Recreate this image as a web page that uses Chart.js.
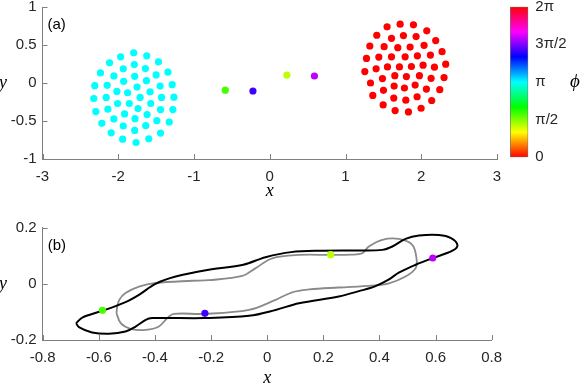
<!DOCTYPE html>
<html>
<head>
<meta charset="utf-8">
<script src="https://cdn.jsdelivr.net/npm/chart.js@4.4.1/dist/chart.umd.min.js"></script>
<style>
body { margin: 0; background: #fff; width: 581px; height: 384px; overflow: hidden; position: relative; }
canvas { position: absolute; }
#top { left: 0; top: 0; }
#bar { left: 500px; top: 0; }
#bottom { left: 0; top: 200px; }
</style>
</head>
<body>
<canvas id="top" width="505" height="200"></canvas>
<canvas id="bar" width="81" height="200"></canvas>
<canvas id="bottom" width="505" height="184"></canvas>
<script>
// left cloud (phase pi) and right cloud (phase 0)
var leftCloud = [
  [-1.796,0.398],[-1.624,0.358],[-1.969,0.345],[-2.115,0.265],[-1.469,0.279],[-1.788,0.243],
  [-1.934,0.186],[-1.642,0.190],[-2.235,0.133],[-1.345,0.142],[-2.058,0.093],[-1.783,0.088],
  [-1.500,0.106],[-2.310,-0.035],[-1.929,0.022],[-1.628,0.031],[-2.146,-0.031],[-1.752,-0.053],
  [-1.447,-0.040],[-1.288,-0.022],[-2.018,-0.111],[-1.876,-0.128],[-1.580,-0.115],[-2.323,-0.204],
  [-2.159,-0.190],[-1.712,-0.190],[-1.429,-0.190],[-1.265,-0.186],[-2.009,-0.270],[-1.854,-0.270],
  [-1.571,-0.270],[-2.296,-0.376],[-2.137,-0.345],[-1.739,-0.336],[-1.442,-0.350],[-1.279,-0.350],
  [-1.916,-0.407],[-1.619,-0.416],[-2.058,-0.473],[-1.779,-0.469],[-1.491,-0.496],[-1.327,-0.513],
  [-2.217,-0.531],[-1.934,-0.566],[-1.637,-0.562],[-2.093,-0.655],[-1.783,-0.624],[-1.442,-0.659],
  [-1.942,-0.739],[-1.597,-0.735],[-1.765,-0.783]
];
var leftPhase = Math.PI;

var rightCloud = [
  [1.721,0.774],[1.549,0.739],[1.897,0.765],[1.413,0.628],[2.073,0.686],[1.607,0.588],
  [1.765,0.624],[1.932,0.611],[2.191,0.558],[1.321,0.487],[1.510,0.478],[1.690,0.465],
  [1.853,0.473],[2.037,0.496],[2.275,0.412],[1.277,0.323],[1.440,0.341],[1.607,0.345],
  [1.787,0.345],[1.949,0.358],[2.121,0.367],[1.255,0.150],[1.404,0.186],[1.554,0.212],
  [1.712,0.212],[1.870,0.217],[2.024,0.235],[2.174,0.208],[2.323,0.248],[1.330,0.000],
  [1.488,0.058],[1.651,0.097],[1.804,0.084],[1.976,0.097],[2.130,0.062],[2.301,0.071],
  [1.360,-0.164],[1.501,-0.097],[1.642,-0.040],[1.778,-0.066],[1.919,-0.027],[2.068,-0.080],
  [2.244,-0.088],[1.637,-0.199],[1.796,-0.226],[1.945,-0.181],[2.138,-0.230],[1.497,-0.288],
  [1.655,-0.363],[1.831,-0.381],[1.998,-0.332]
];
var rightPhase = 0;

// the four tracked particles, shown in both panels
var trackX = [-0.587, -0.222, 0.226, 0.590];
var trackY = [-0.094, -0.105, 0.104, 0.092];
var trackPhase = [1.80, 4.45, 1.31, 4.97];

// closed curves of panel (b)
var blackLoop = [
  [-0.681,-0.140],[-0.659,-0.120],[-0.587,-0.096],[-0.505,-0.065],[-0.457,-0.039],[-0.398,0.000],
  [-0.326,0.026],[-0.208,0.050],[-0.085,0.068],[-0.006,0.095],[0.085,0.113],[0.197,0.118],
  [0.315,0.119],[0.410,0.121],[0.446,0.133],[0.493,0.160],[0.541,0.172],[0.612,0.174],
  [0.655,0.163],[0.678,0.138],[0.660,0.118],[0.588,0.091],[0.529,0.068],[0.469,0.040],
  [0.434,0.016],[0.386,-0.008],[0.327,-0.026],[0.255,-0.045],[0.113,-0.069],[0.030,-0.093],
  [-0.065,-0.114],[-0.226,-0.122],[-0.410,-0.122],[-0.433,-0.128],[-0.469,-0.152],[-0.505,-0.170],
  [-0.564,-0.178],[-0.624,-0.173],[-0.671,-0.154],[-0.681,-0.140]
];
var grayLoop = [
  [-0.537,-0.105],[-0.535,-0.085],[-0.527,-0.057],[-0.505,-0.033],[-0.457,-0.010],[-0.398,0.003],
  [-0.267,0.011],[-0.208,0.013],[-0.089,0.028],[-0.041,0.056],[0.018,0.091],[0.113,0.103],
  [0.226,0.103],[0.300,0.104],[0.339,0.109],[0.362,0.133],[0.410,0.157],[0.469,0.160],
  [0.517,0.139],[0.532,0.091],[0.529,0.056],[0.493,0.026],[0.434,0.002],[0.374,-0.006],
  [0.255,-0.013],[0.150,-0.020],[0.089,-0.030],[0.030,-0.057],[-0.065,-0.093],[-0.226,-0.107],
  [-0.333,-0.107],[-0.356,-0.122],[-0.386,-0.152],[-0.433,-0.164],[-0.487,-0.160],[-0.522,-0.140],
  [-0.537,-0.105]
];

var topXTicks = [-3, -2, -1, 0, 1, 2, 3];
var topYTicks = [-1, -0.5, 0, 0.5, 1];
var bottomXTicks = [-0.8, -0.6, -0.4, -0.2, 0, 0.2, 0.4, 0.6, 0.8];
var bottomYTicks = [-0.2, 0, 0.2];
var phiTicks = [0, Math.PI / 2, Math.PI, 3 * Math.PI / 2, 2 * Math.PI];
var phiTickLabels = ['0', 'π/2', 'π', '3π/2', '2π'];

Chart.defaults.font.family = '"Liberation Sans", Arial, sans-serif';
Chart.defaults.font.size = 15;
Chart.defaults.color = '#262626';
Chart.defaults.animation = false;

// matlab-like hsv colormap
function hsv(phi) {
  var h = (((phi / (2 * Math.PI)) % 1) + 1) % 1 * 6;
  var i = Math.floor(h), f = h - i, r, g, b;
  switch (i % 6) {
    case 0: r = 1; g = f; b = 0; break;
    case 1: r = 1 - f; g = 1; b = 0; break;
    case 2: r = 0; g = 1; b = f; break;
    case 3: r = 0; g = 1 - f; b = 1; break;
    case 4: r = f; g = 0; b = 1; break;
    default: r = 1; g = 0; b = 1 - f;
  }
  return 'rgb(' + Math.round(r * 255) + ',' + Math.round(g * 255) + ',' + Math.round(b * 255) + ')';
}

function pairs(list) {
  return list.map(function (p) { return { x: p[0], y: p[1] }; });
}

function trackPoints() {
  return trackX.map(function (x, i) { return { x: x, y: trackY[i] }; });
}

function fmt(v) {
  return String(Math.round(v * 100) / 100);
}

function setTicks(list) {
  return function (scale) {
    scale.ticks = list.map(function (v) { return { value: v }; });
  };
}

// inward ticks, panel tag and axis letters
var decorate = {
  id: 'decorate',
  afterDraw: function (chart) {
    var o = chart.options.plugins.decorate;
    if (!o) return;
    var c = chart.ctx, a = chart.chartArea, xs = chart.scales.x, ys = chart.scales.y;
    c.save();
    c.strokeStyle = '#808080';
    c.lineWidth = 1;
    c.beginPath();
    xs.ticks.forEach(function (t) {
      var p = Math.round(xs.getPixelForValue(t.value)) + 0.5;
      c.moveTo(p, a.bottom);
      c.lineTo(p, a.bottom - 5);
    });
    ys.ticks.forEach(function (t) {
      var p = Math.round(ys.getPixelForValue(t.value)) + 0.5;
      c.moveTo(a.left, p);
      c.lineTo(a.left + 5, p);
    });
    c.stroke();

    c.fillStyle = '#000';
    c.font = '15px "Liberation Sans", Arial, sans-serif';
    c.textAlign = 'left';
    c.textBaseline = 'middle';
    c.fillText(o.tag, a.left + 5, a.top + 18);

    c.font = 'italic 18px "Liberation Serif", serif';
    c.textAlign = 'center';
    c.textBaseline = 'alphabetic';
    c.fillText('x', (a.left + a.right) / 2, o.xLabelY);
    c.textBaseline = 'middle';
    c.fillText('y', 3, (a.top + a.bottom) / 2);
    c.restore();
  }
};

function axisOpts(ticks, size, isX) {
  return {
    type: 'linear',
    min: ticks[0],
    max: ticks[ticks.length - 1],
    afterBuildTicks: setTicks(ticks),
    afterFit: function (scale) {
      if (isX) scale.height = size; else scale.width = size;
      scale.paddingTop = 0;
      scale.paddingBottom = 0;
      scale.paddingLeft = 0;
      scale.paddingRight = 0;
    },
    grid: { display: false, drawTicks: false },
    border: { display: true, color: '#808080', width: 1 },
    ticks: { padding: isX ? 9 : 6, callback: fmt, autoSkip: false, maxRotation: 0 }
  };
}

new Chart(document.getElementById('top'), {
  type: 'scatter',
  data: {
    datasets: [
      {
        data: trackPoints(),
        pointBackgroundColor: trackPhase.map(hsv),
        pointRadius: 3.6, pointBorderWidth: 0
      },
      {
        data: pairs(leftCloud),
        pointBackgroundColor: hsv(leftPhase),
        pointRadius: 3.6, pointBorderWidth: 0
      },
      {
        data: pairs(rightCloud),
        pointBackgroundColor: hsv(rightPhase),
        pointRadius: 3.6, pointBorderWidth: 0
      }
    ]
  },
  options: {
    responsive: false,
    layout: { padding: { left: 0, right: 8, top: 7, bottom: 0 } },
    scales: {
      x: axisOpts(topXTicks, 41, true),
      y: axisOpts(topYTicks, 42.5, false)
    },
    plugins: {
      legend: { display: false },
      tooltip: { enabled: false },
      decorate: { tag: '(a)', xLabelY: 196 }
    }
  },
  plugins: [decorate]
});

new Chart(document.getElementById('bottom'), {
  type: 'scatter',
  data: {
    datasets: [
      {
        data: trackPoints(),
        pointBackgroundColor: trackPhase.map(hsv),
        pointRadius: 3.6, pointBorderWidth: 0
      },
      {
        data: pairs(blackLoop),
        showLine: true, borderColor: '#000', borderWidth: 2,
        pointRadius: 0, tension: 0.35
      },
      {
        data: pairs(grayLoop),
        showLine: true, borderColor: '#8a8a8a', borderWidth: 1.8,
        pointRadius: 0, tension: 0.35
      }
    ]
  },
  options: {
    responsive: false,
    layout: { padding: { left: 0, right: 13.3, top: 27.7, bottom: 0 } },
    scales: {
      x: axisOpts(bottomXTicks, 44, true),
      y: axisOpts(bottomYTicks, 42.7, false)
    },
    plugins: {
      legend: { display: false },
      tooltip: { enabled: false },
      decorate: { tag: '(b)', xLabelY: 183 }
    }
  },
  plugins: [decorate]
});

// colorbar
var phiLabel = {
  id: 'phiLabel',
  afterDraw: function (chart) {
    var c = chart.ctx, a = chart.chartArea;
    c.save();
    c.fillStyle = '#000';
    c.font = 'italic 19px "Liberation Serif", "DejaVu Serif", serif';
    c.textAlign = 'center';
    c.textBaseline = 'middle';
    c.fillText('ϕ', 75, (a.top + a.bottom) / 2);
    c.restore();
  }
};

new Chart(document.getElementById('bar'), {
  type: 'bar',
  data: {
    labels: [''],
    datasets: [{
      data: [phiTicks[phiTicks.length - 1]],
      barPercentage: 1,
      categoryPercentage: 1,
      borderWidth: 1,
      borderColor: '#777',
      borderSkipped: false,
      backgroundColor: function (ctx) {
        var chart = ctx.chart, ys = chart.scales.y;
        if (!chart.chartArea || !ys) return '#f00';
        var y0 = ys.getPixelForValue(0), y1 = ys.getPixelForValue(2 * Math.PI);
        if (!isFinite(y0) || !isFinite(y1) || y0 === y1) return '#f00';
        var g = chart.ctx.createLinearGradient(0, y0, 0, y1);
        for (var k = 0; k <= 12; k++) {
          g.addColorStop(k / 12, hsv(k / 12 * 2 * Math.PI));
        }
        return g;
      }
    }]
  },
  options: {
    responsive: false,
    layout: { padding: { left: 10, right: 0, top: 6.7, bottom: 42.7 } },
    scales: {
      x: { display: false },
      y: {
        position: 'right',
        min: 0,
        max: phiTicks[phiTicks.length - 1],
        afterBuildTicks: setTicks(phiTicks),
        afterFit: function (scale) {
          scale.width = 52.7;
          scale.paddingTop = 0;
          scale.paddingBottom = 0;
        },
        grid: { display: false, drawTicks: false },
        border: { display: false },
        ticks: {
          padding: 7,
          callback: function (v, i) { return phiTickLabels[i]; }
        }
      }
    },
    plugins: { legend: { display: false }, tooltip: { enabled: false } }
  },
  plugins: [phiLabel]
});
</script>
</body>
</html>
